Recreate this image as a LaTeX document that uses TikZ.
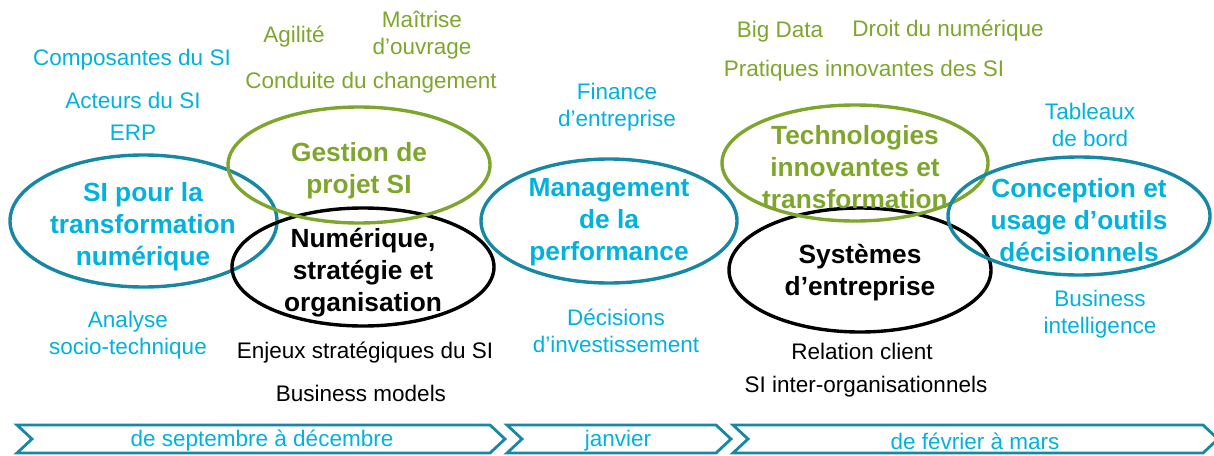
\documentclass[tikz,border=0pt]{standalone}
\usepackage{fontspec}
\setmainfont{Liberation Sans}
\usetikzlibrary{shapes.geometric}
\definecolor{cyantxt}{RGB}{0,178,220}
\definecolor{tealline}{RGB}{22,136,163}
\definecolor{greenc}{RGB}{126,166,44}
\begin{document}
\begin{tikzpicture}[x=1pt,y=-1pt,
  lab/.style={inner sep=0pt,align=center,font=\fontsize{22.5}{26.8}\selectfont},
  cyanlab/.style={lab,text=cyantxt},
  greenlab/.style={lab,text=greenc},
  blacklab/.style={lab,text=black},
  ell/.style={ellipse,inner sep=0pt,line width=3.4pt},
  tealell/.style={ell,draw=tealline},
  greenell/.style={ell,draw=greenc},
  blackell/.style={ell,draw=black},
  title/.style={inner sep=0pt,align=center,font=\fontsize{26.3}{32}\selectfont\bfseries},
  cyantitle/.style={title,text=cyantxt},
  greentitle/.style={title,text=greenc},
  blacktitle/.style={title,text=black},
  chev/.style={draw=tealline,line width=2.8pt,line join=miter},
]
\useasboundingbox (0,0) rectangle (1214,455);

% ellipses
\node[tealell,minimum width=267pt,minimum height=132pt] (si) at (143.5,221) {};
\node[blackell,minimum width=262pt,minimum height=118pt] (num) at (363,267) {};
\node[greenell,minimum width=262pt,minimum height=116pt] (gp) at (359,165) {};
\node[tealell,minimum width=256pt,minimum height=124pt] (mp) at (609,221) {};
\node[blackell,minimum width=262pt,minimum height=124pt] (se) at (860,270) {};
\node[greenell,minimum width=266pt,minimum height=116pt] (ti) at (855,163) {};
\node[tealell,minimum width=262pt,minimum height=118pt] (co) at (1079,216) {};

% ellipse titles
\node[cyantitle] (si-t) at (143,227) {SI pour la\\transformation\\numérique};
\node[blacktitle] (num-t) at (363,273) {Numérique,\\stratégie et\\organisation};
\node[greentitle] (gp-t) at (359,171) {Gestion de\\projet SI};
\node[cyantitle] (mp-t) at (609,222) {Management\\de la\\performance};
\node[blacktitle] (se-t) at (860,273) {Systèmes\\d’entreprise};
\node[greentitle] (ti-t) at (855,167) {Technologies\\innovantes et\\transformation};
\node[cyantitle] (co-t) at (1079,220) {Conception et\\usage d’outils\\décisionnels};

% cyan labels
\node[cyanlab] (comp) at (132,60) {Composantes du SI};
\node[cyanlab] (act) at (133,100) {Acteurs du SI};
\node[cyanlab] (erp) at (133,133) {ERP};
\node[cyanlab] (ana) at (128,335) {Analyse\\socio-technique};
\node[cyanlab] (fin) at (617,107) {Finance\\d’entreprise};
\node[cyanlab] (dec) at (616,331) {Décisions\\d’investissement};
\node[cyanlab] (tab) at (1090,125) {Tableaux\\de bord};
\node[cyanlab] (bi) at (1100,314) {Business\\intelligence};

% green labels
\node[greenlab] (agi) at (294,37) {Agilité};
\node[greenlab] (moa) at (422,35) {Maîtrise\\d’ouvrage};
\node[greenlab] (cdc) at (371,83) {Conduite du changement};
\node[greenlab] (bd) at (780,32) {Big Data};
\node[greenlab] (drn) at (948,31) {Droit du numérique};
\node[greenlab] (pra) at (864,71) {Pratiques innovantes des SI};

% black labels
\node[blacklab] (enj) at (365,353) {Enjeux stratégiques du SI};
\node[blacklab] (bm) at (361,393) {Business models};
\node[blacklab] (rc) at (862,351) {Relation client};
\node[blacklab] (sio) at (866,387) {SI inter-organisationnels};

% timeline chevrons
\draw[chev] (17,425) -- (490,425) -- (505,439) -- (490,453) -- (17,453) -- (32,439) -- cycle;
\draw[chev] (507,425) -- (716,425) -- (731,439) -- (716,453) -- (507,453) -- (522,439) -- cycle;
\draw[chev] (733,425) -- (1203,425) -- (1218,439) -- (1203,453) -- (733,453) -- (748,439) -- cycle;
\node[cyanlab] (p1) at (262,441) {de septembre à décembre};
\node[cyanlab] (p2) at (618,441) {janvier};
\node[cyanlab] (p3) at (975,441) {de février à mars};
\end{tikzpicture}
\end{document}
